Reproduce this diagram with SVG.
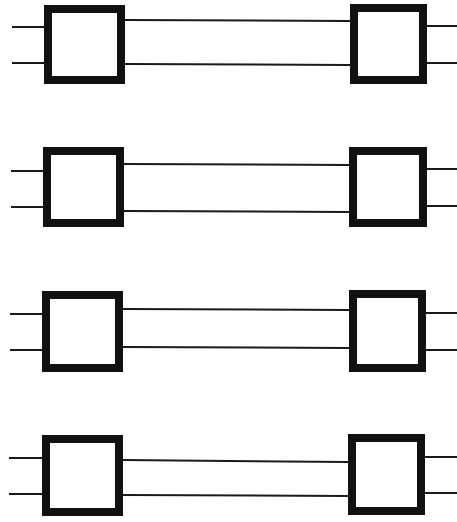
<svg xmlns="http://www.w3.org/2000/svg" width="457" height="522" viewBox="0 0 457 522">
<style>
.box{fill:#fff;stroke:#111;stroke-width:8}
.ln{stroke:#1a1a1a;stroke-width:2;fill:none}
</style>
<rect width="457" height="522" fill="#fff"/>
<g id="connectors">
<line class="ln" x1="12" y1="27" x2="44" y2="27"/>
<line class="ln" x1="12" y1="63" x2="44" y2="63"/>
<line class="ln" x1="125" y1="20" x2="350" y2="21"/>
<line class="ln" x1="125" y1="64" x2="350" y2="65"/>
<line class="ln" x1="427" y1="26" x2="457" y2="26"/>
<line class="ln" x1="427" y1="63" x2="457" y2="63"/>

<line class="ln" x1="11" y1="171" x2="43" y2="171"/>
<line class="ln" x1="11" y1="207" x2="43" y2="207"/>
<line class="ln" x1="124" y1="164" x2="349" y2="165"/>
<line class="ln" x1="124" y1="211" x2="349" y2="212"/>
<line class="ln" x1="427" y1="169" x2="457" y2="169"/>
<line class="ln" x1="427" y1="206" x2="457" y2="206"/>

<line class="ln" x1="10" y1="314" x2="42" y2="314"/>
<line class="ln" x1="10" y1="350" x2="42" y2="350"/>
<line class="ln" x1="123" y1="309" x2="349" y2="310"/>
<line class="ln" x1="123" y1="347" x2="349" y2="348"/>
<line class="ln" x1="426" y1="313" x2="457" y2="313"/>
<line class="ln" x1="426" y1="350" x2="457" y2="350"/>

<line class="ln" x1="9" y1="458" x2="42" y2="458"/>
<line class="ln" x1="9" y1="494" x2="42" y2="494"/>
<line class="ln" x1="123" y1="460" x2="348" y2="462"/>
<line class="ln" x1="123" y1="495" x2="348" y2="496"/>
<line class="ln" x1="425" y1="457" x2="457" y2="457"/>
<line class="ln" x1="425" y1="493" x2="457" y2="493"/>
</g>
<g id="box1L"><rect class="box" x="48" y="9" width="73" height="71"/></g>
<g id="box1R"><rect class="box" x="354" y="8" width="69" height="72"/></g>
<g id="box2L"><rect class="box" x="47" y="151" width="73" height="72"/></g>
<g id="box2R"><rect class="box" x="353" y="151" width="70" height="72"/></g>
<g id="box3L"><rect class="box" x="46" y="295" width="73" height="73"/></g>
<g id="box3R"><rect class="box" x="353" y="294" width="69" height="74"/></g>
<g id="box4L"><rect class="box" x="46" y="439" width="73" height="73"/></g>
<g id="box4R"><rect class="box" x="352" y="438" width="69" height="73"/></g>
</svg>
